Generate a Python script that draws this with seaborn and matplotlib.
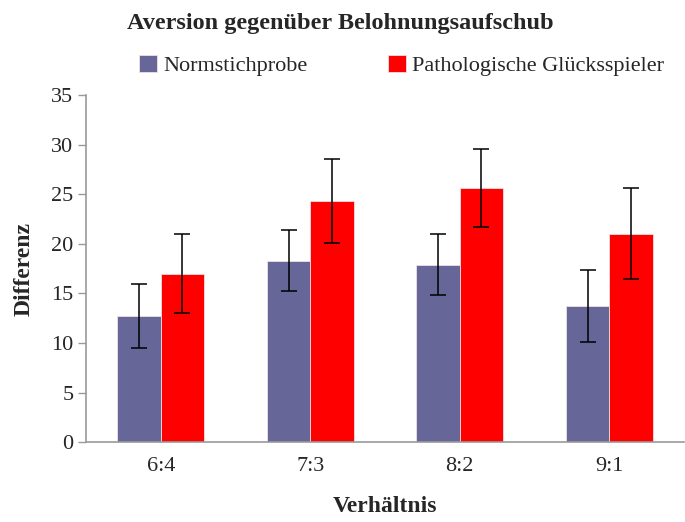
import matplotlib
matplotlib.use("Agg")
import matplotlib.pyplot as plt
import numpy as np
import pandas as pd
import seaborn as sns

categories = ["6:4", "7:3", "8:2", "9:1"]
groups = ["Normstichprobe", "Pathologische Glücksspieler"]
norm_mean = [12.7, 18.3, 17.9, 13.7]
norm_err = [3.2, 3.05, 3.05, 3.65]
path_mean = [17.0, 24.3, 25.6, 21.0]
path_err = [4.0, 4.2, 3.95, 4.6]
colors = ["#666699", "#FF0000"]

df = pd.DataFrame({
    "Verhältnis": categories * 2,
    "Gruppe": [groups[0]] * 4 + [groups[1]] * 4,
    "Differenz": norm_mean + path_mean,
})

sns.set_style("white")
plt.rcParams["font.family"] = ["Liberation Serif", "DejaVu Serif"]

fig = plt.figure(figsize=(6.85, 5.22), dpi=100)
ax = fig.add_axes([0.1255, 0.153, 0.873, 0.665])

sns.barplot(data=df, x="Verhältnis", y="Differenz", hue="Gruppe",
            palette=colors, width=0.58, errorbar=None, ax=ax,
            edgecolor="#f0e0e0", linewidth=0.6, saturation=1)

# error bars at the centre of each bar
for container, errs in zip(ax.containers, [norm_err, path_err]):
    for bar, e in zip(container, errs):
        cx = bar.get_x() + bar.get_width() / 2
        ax.errorbar(cx, bar.get_height(), yerr=e, color="black",
                    capsize=6, elinewidth=1.1, capthick=1.1)

ax.set_xlim(-0.5, 3.5)
ax.set_ylim(0, 35)
ax.set_yticks(np.arange(0, 36, 5))
ax.set_xticks(np.arange(-0.5, 4, 1), minor=True)
ax.tick_params(axis="x", which="major", length=0, labelsize=16, pad=11)
ax.tick_params(axis="x", which="minor", length=7, width=1, color="#999999")
ax.tick_params(axis="y", length=6, width=1, color="#999999", labelsize=16,
               left=True, pad=3)

for s in ["top", "right"]:
    ax.spines[s].set_visible(False)
for s in ["left", "bottom"]:
    ax.spines[s].set_color("#999999")
    ax.spines[s].set_linewidth(1.2)

ax.set_xlabel("Verhältnis", fontsize=17, fontweight="bold", labelpad=14)
ax.set_ylabel("Differenz", fontsize=17, fontweight="bold", labelpad=12)

fig.text(0.497, 0.955, "Aversion gegenüber Belohnungsaufschub", ha="center",
         va="center", fontsize=17.5, fontweight="bold")

handles, labels = ax.get_legend_handles_labels()
ax.legend(handles, labels, loc="center", bbox_to_anchor=(0.528, 1.085),
          ncol=2, frameon=False, fontsize=16, handlelength=0.8,
          handleheight=0.8, handletextpad=0.3, columnspacing=3.6)

fig.savefig("out.png", dpi=100)
